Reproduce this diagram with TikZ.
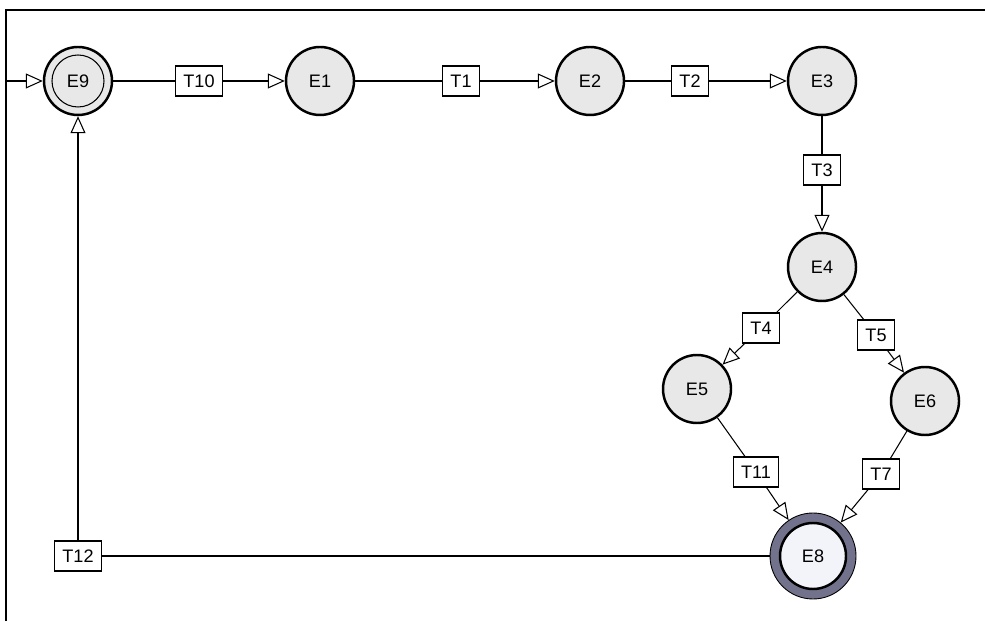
\documentclass[tikz,border=0pt]{standalone}
\usepackage{fontspec}
\setmainfont{Liberation Sans}
\usetikzlibrary{arrows.meta}
\definecolor{stategray}{HTML}{E8E8E8}
\definecolor{ringblue}{HTML}{72728C}
\definecolor{finalfill}{HTML}{F3F3FA}

\begin{document}
\begin{tikzpicture}[font=\fontsize{10.3}{12}\selectfont,
	state/.style={circle, draw, line width=1.4pt, fill=stategray, minimum size=1.36cm, inner sep=0pt},
	trans/.style={draw, fill=white, line width=0.6pt, minimum height=0.6cm, inner xsep=4.5pt, inner ysep=0pt},
	arc/.style={line width=0.6pt, -{Triangle[open, length=0.34cm, width=0.3cm, line width=0.6pt]}},
	link/.style={line width=0.6pt}]
	\useasboundingbox (0,0) rectangle (19.7,12.42);
	% frame
	\draw[line width=1.2pt] (0.12,0) -- (0.12,12.22) -- (19.7,12.22);
	% states
	\node[state, path picture={\draw[line width=0.6pt] (path picture bounding box.center) circle (0.52cm);}] (E9) at (1.56,10.80) {E9};
	\node[state] (E1) at (6.40,10.80) {E1};
	\node[state] (E2) at (11.80,10.80) {E2};
	\node[state] (E3) at (16.44,10.80) {E3};
	\node[state] (E4) at (16.44,7.08) {E4};
	\node[state] (E5) at (13.94,4.64) {E5};
	\node[state] (E6) at (18.50,4.40) {E6};
	\node[state, line width=0.5pt, fill=ringblue, minimum size=1.72cm,
		path picture={\fill[finalfill] (path picture bounding box.center) circle (0.66cm);
			\draw[line width=1.4pt] (path picture bounding box.center) circle (0.66cm);}] (E8) at (16.26,1.30) {E8};
	% transitions
	\node[trans] (T10) at (3.98,10.80) {T10};
	\node[trans] (T1) at (9.22,10.80) {T1};
	\node[trans] (T2) at (13.80,10.80) {T2};
	\node[trans] (T3) at (16.44,9.02) {T3};
	\node[trans] (T4) at (15.22,5.86) {T4};
	\node[trans] (T5) at (17.52,5.72) {T5};
	\node[trans] (T11) at (15.12,2.98) {T11};
	\node[trans] (T7) at (17.62,2.94) {T7};
	\node[trans] (T12) at (1.56,1.30) {T12};
	% arcs
	\coordinate (start) at (0.14,10.80);
	\draw[arc] (start) -- (E9);
	\draw[link] (E9) -- (T10);
	\draw[arc] (T10) -- (E1);
	\draw[link] (E1) -- (T1);
	\draw[arc] (T1) -- (E2);
	\draw[link] (E2) -- (T2);
	\draw[arc] (T2) -- (E3);
	\draw[link] (E3) -- (T3);
	\draw[arc] (T3) -- (E4);
	\draw[link] (E4) -- (T4);
	\draw[arc] (T4) -- (E5);
	\draw[link] (E4) -- (T5);
	\draw[arc] (T5) -- (E6);
	\draw[link] (E5) -- (T11);
	\draw[arc] (T11) -- (E8);
	\draw[link] (E6) -- (T7);
	\draw[arc] (T7) -- (E8);
	\draw[link] (E8) -- (T12);
	\draw[arc] (T12) -- (E9);
\end{tikzpicture}
\end{document}
